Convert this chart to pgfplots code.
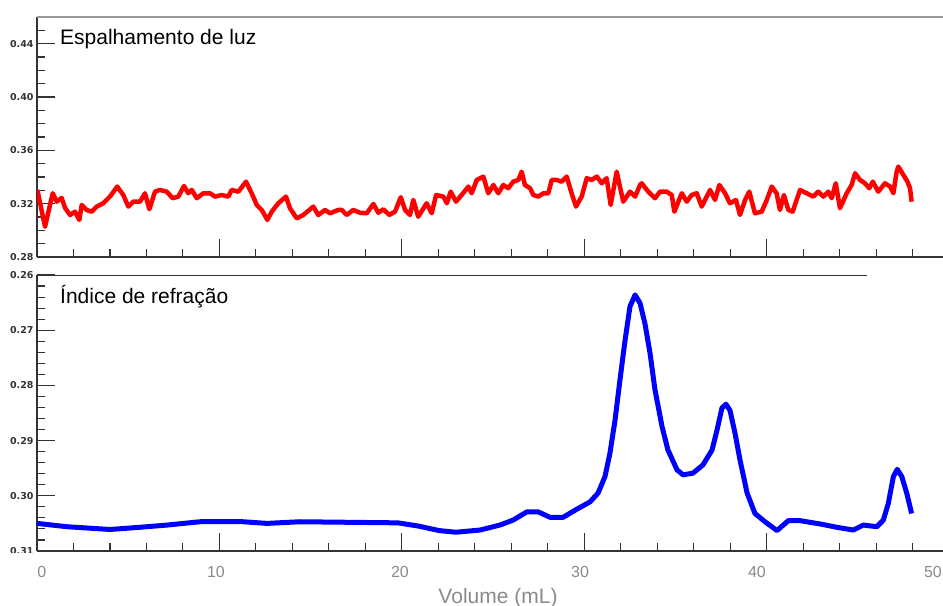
\documentclass[border=0pt]{standalone}
\usepackage{pgfplots}
\pgfplotsset{compat=1.18}
\usepackage{fontspec}
\setmainfont{Liberation Sans}
\newfontfamily\dejavu{DejaVu Sans}
\definecolor{axisdark}{HTML}{333333}
\definecolor{labelgray}{HTML}{8A8A8A}
\definecolor{topgray}{HTML}{9A9A9A}
\pgfplotsset{
  panel/.style={
    scale only axis, width=906bp, xmin=0, xmax=49.67,
    axis x line*=bottom, axis y line*=left,
    axis line style={draw=axisdark, line width=1.3bp, -},
    tick align=inside,
    major tick length=18bp, minor tick length=8bp,
    tick style={draw=axisdark, line width=1.1bp},
    xtick={0,10,20,30,40}, minor xtick={2,4,6,8,12,14,16,18,22,24,26,28,32,34,36,38,42,44,46,48},
    xticklabels={},
    yticklabel style={font=\dejavu\bfseries\fontsize{9.5bp}{11bp}\selectfont, text=axisdark},
  }
}
\begin{document}
\begin{tikzpicture}
% top panel
\begin{axis}[panel, at={(37bp,349bp)}, anchor=south west, height=240bp,
  ymin=0.28, ymax=0.46,
  ytick={0.28,0.32,0.36,0.40,0.44}, yticklabels={0.28,0.32,0.36,0.40,0.44},
  minor ytick={0.29,0.30,0.31,0.33,0.34,0.35,0.37,0.38,0.39,0.41,0.42,0.43,0.45}]
\addplot[red, line width=4.5bp, line join=round] coordinates {
(0.02,0.3303)(0.44,0.3027)(0.86,0.3278)(1.08,0.3215)(1.35,0.3243)(1.54,0.3168)(1.81,0.3115)(2.08,0.3140)(2.32,0.3078)(2.45,0.3190)(2.72,0.3153)(3.00,0.3140)(3.27,0.3178)(3.63,0.3203)(4.00,0.3253)(4.40,0.3328)(4.73,0.3265)(5.01,0.3178)(5.28,0.3215)(5.65,0.3215)(5.92,0.3278)(6.16,0.3158)(6.47,0.3290)(6.74,0.3303)(7.11,0.3290)(7.44,0.3241)(7.75,0.3253)(8.06,0.3333)(8.29,0.3278)(8.48,0.3303)(8.76,0.3241)(9.12,0.3278)(9.48,0.3278)(9.76,0.3253)(10.13,0.3265)(10.49,0.3253)(10.67,0.3303)(11.04,0.3290)(11.46,0.3365)(11.77,0.3278)(12.05,0.3190)(12.32,0.3153)(12.63,0.3078)(12.87,0.3140)(13.23,0.3203)(13.65,0.3253)(13.87,0.3166)(14.24,0.3090)(14.60,0.3115)(15.15,0.3178)(15.42,0.3115)(15.79,0.3153)(16.06,0.3128)(16.52,0.3153)(16.71,0.3153)(16.98,0.3115)(17.34,0.3153)(17.71,0.3132)(18.08,0.3128)(18.44,0.3198)(18.71,0.3132)(18.99,0.3158)(19.31,0.3115)(19.63,0.3140)(19.94,0.3248)(20.18,0.3153)(20.45,0.3115)(20.63,0.3228)(20.90,0.3102)(21.36,0.3203)(21.64,0.3128)(21.88,0.3265)(22.28,0.3253)(22.47,0.3203)(22.68,0.3290)(22.97,0.3215)(23.28,0.3265)(23.65,0.3328)(23.83,0.3278)(24.11,0.3378)(24.47,0.3403)(24.74,0.3278)(25.02,0.3340)(25.29,0.3278)(25.56,0.3340)(25.84,0.3316)(26.11,0.3365)(26.39,0.3378)(26.57,0.3440)(26.75,0.3340)(27.03,0.3316)(27.21,0.3265)(27.48,0.3253)(27.76,0.3278)(28.03,0.3278)(28.22,0.3378)(28.49,0.3378)(28.77,0.3365)(29.04,0.3403)(29.31,0.3278)(29.55,0.3178)(29.86,0.3253)(30.14,0.3391)(30.41,0.3378)(30.69,0.3403)(30.96,0.3353)(31.23,0.3391)(31.45,0.3190)(31.78,0.3440)(32.14,0.3215)(32.51,0.3290)(32.79,0.3253)(33.06,0.3340)(33.15,0.3353)(33.51,0.3290)(33.88,0.3241)(34.16,0.3290)(34.52,0.3290)(34.80,0.3265)(34.94,0.3140)(35.35,0.3278)(35.62,0.3215)(35.89,0.3265)(36.17,0.3278)(36.44,0.3178)(36.90,0.3303)(37.17,0.3228)(37.41,0.3340)(37.72,0.3278)(37.99,0.3203)(38.32,0.3228)(38.54,0.3115)(38.82,0.3228)(39.05,0.3290)(39.36,0.3128)(39.73,0.3140)(40.01,0.3228)(40.28,0.3328)(40.55,0.3278)(40.73,0.3153)(40.95,0.3265)(41.19,0.3153)(41.43,0.3140)(41.83,0.3303)(42.20,0.3278)(42.56,0.3253)(42.83,0.3290)(43.11,0.3253)(43.38,0.3290)(43.57,0.3241)(43.79,0.3353)(44.02,0.3166)(44.39,0.3278)(44.66,0.3340)(44.85,0.3428)(45.12,0.3378)(45.39,0.3353)(45.63,0.3316)(45.82,0.3365)(46.12,0.3290)(46.49,0.3353)(46.77,0.3328)(46.95,0.3278)(47.13,0.3440)(47.22,0.3478)(47.50,0.3415)(47.72,0.3365)(47.86,0.3316)(47.95,0.3215)
};
\draw[topgray, line width=1.5bp] (axis cs:0,0.46) -- (axis cs:49.67,0.46);
\end{axis}
% bottom panel
\begin{axis}[panel, at={(37bp,55bp)}, anchor=south west, height=276bp,
  ymin=0.26, ymax=0.31, y dir=reverse,
  ytick={0.26,0.27,0.28,0.29,0.30,0.31}, yticklabels={0.26,0.27,0.28,0.29,0.30,0.31},
  minor y tick num=4,
  extra x ticks={0.27,9.81,19.90,29.77,39.47,49.12},
  extra x tick labels={0,10,20,30,40,50},
  extra x tick style={tick style={draw=none}},
  xticklabel style={font=\fontsize{16bp}{19bp}\selectfont, text=labelgray, yshift=-12bp}]
\addplot[blue, line width=5bp, line join=round] coordinates {
(0.00,0.3050)(1.64,0.3056)(4.00,0.3061)(5.65,0.3057)(7.13,0.3053)(8.94,0.3047)(11.29,0.3047)(12.61,0.3050)(14.42,0.3047)(19.79,0.3049)(20.94,0.3055)(22.04,0.3063)(22.97,0.3066)(24.29,0.3062)(25.38,0.3053)(26.10,0.3044)(26.86,0.3029)(27.47,0.3029)(28.13,0.3039)(28.84,0.3039)(29.61,0.3024)(30.32,0.3011)(30.76,0.2995)(31.14,0.2965)(31.41,0.2923)(31.69,0.2863)(31.96,0.2790)(32.24,0.2718)(32.51,0.2657)(32.79,0.2636)(33.06,0.2651)(33.33,0.2688)(33.61,0.2742)(33.88,0.2808)(34.27,0.2875)(34.59,0.2917)(35.09,0.2953)(35.42,0.2962)(35.96,0.2959)(36.51,0.2944)(37.01,0.2917)(37.28,0.2881)(37.55,0.2841)(37.77,0.2834)(37.99,0.2845)(38.27,0.2887)(38.54,0.2935)(38.93,0.2995)(39.36,0.3032)(39.91,0.3047)(40.57,0.3063)(41.19,0.3045)(41.83,0.3045)(42.93,0.3051)(43.84,0.3057)(44.75,0.3062)(45.30,0.3053)(46.04,0.3056)(46.40,0.3044)(46.67,0.3014)(46.95,0.2965)(47.16,0.2952)(47.41,0.2965)(47.68,0.2995)(47.95,0.3032)
};
\draw[axisdark, line width=1.3bp] (axis cs:0,0.26) -- (axis cs:45.5,0.26);
\draw[topgray, line width=2.5bp] ([yshift=3bp]axis cs:44.85,0.26) -- ([yshift=3bp]axis cs:49.67,0.26);
\end{axis}
\fill[white] (0,0) rectangle (34bp,53bp);
\node[anchor=base west, inner sep=0, font=\fontsize{21bp}{25bp}\selectfont] at (60bp,561.7bp) {Espalhamento de luz};
\node[anchor=base west, inner sep=0, font=\fontsize{21bp}{25bp}\selectfont] at (60bp,302bp) {Índice de refração};
\node[anchor=base, inner sep=0, text=labelgray, font=\fontsize{21bp}{25bp}\selectfont] at (498bp,3bp) {Volume (mL)};
\pgfresetboundingbox
\useasboundingbox (0,0) rectangle (943bp,606bp);
\end{tikzpicture}
\end{document}
